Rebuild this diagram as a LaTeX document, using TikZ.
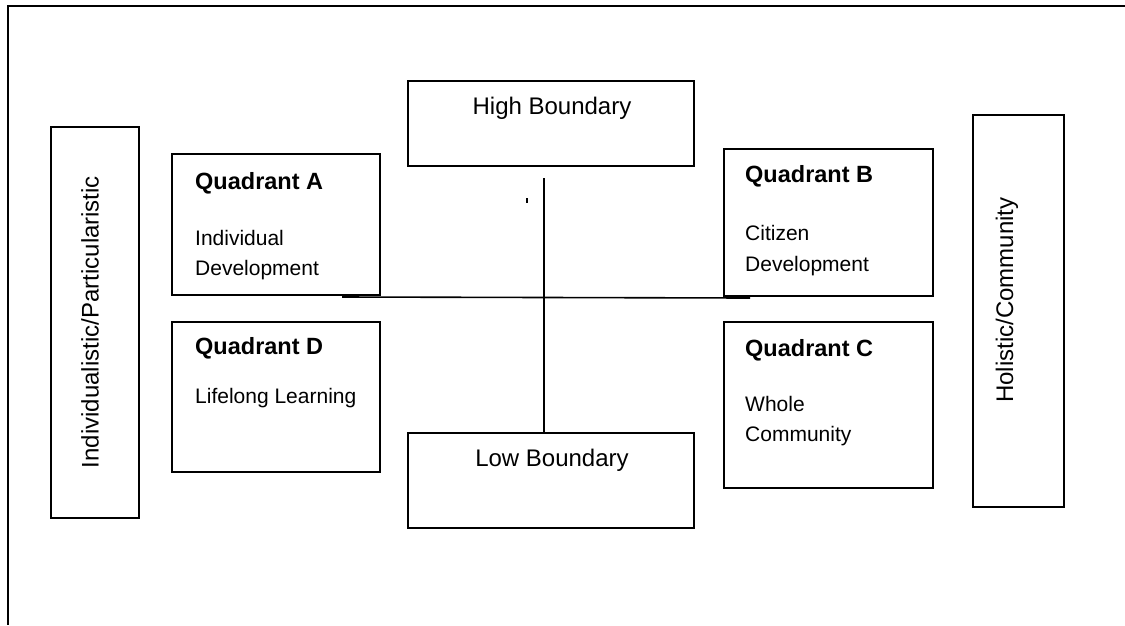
\documentclass[tikz,border=0pt]{standalone}
\usepackage{fontspec}
\setmainfont{Liberation Sans}
\begin{document}
\begin{tikzpicture}[x=1pt,y=-1pt,
  boxr/.style={draw=black,line width=1.5pt},
  lbl/.style={font=\fontsize{24}{30}\selectfont,inner sep=0pt},
  hd/.style={lbl,font=\fontsize{23.5}{30}\selectfont\bfseries,anchor=base west},
  bd/.style={lbl,font=\fontsize{21}{30}\selectfont,anchor=base west},
  ctr/.style={lbl,anchor=base},
  rule/.style={line width=1.6pt}]
\useasboundingbox (0,0) rectangle (1125,625);
% outer frame (top and left only)
\coordinate (frTR) at (1125,6);
\coordinate (frTL) at (8,6);
\coordinate (frBL) at (8,625);
\draw[line width=2pt] (frTR) -- (frTL) -- (frBL);
% boxes
\draw[boxr] (51,127) rectangle (139,518) coordinate (leftbox);
\draw[boxr] (973,115) rectangle (1064,507) coordinate (rightbox);
\draw[boxr] (408,81) rectangle (694,166) coordinate (highbox);
\draw[boxr] (408,433) rectangle (694,528) coordinate (lowbox);
\draw[boxr] (172,154) rectangle (380,295) coordinate (qa);
\draw[boxr] (172,322) rectangle (380,472) coordinate (qd);
\draw[boxr] (724,149) rectangle (933,296) coordinate (qb);
\draw[boxr] (724,322) rectangle (933,488) coordinate (qc);
% texts
\node[lbl,rotate=90] (tleft) at (90,322) {Individualistic/Particularistic};
\node[lbl,rotate=90] (tright) at (1007,300) {Holistic/Community};
\node[ctr] (thigh) at (552,114) {High Boundary};
\node[ctr] (tlow) at (552,466) {Low Boundary};
\node[hd] (qah) at (195,189) {Quadrant A};
\node[bd] (qa1) at (195,245) {Individual};
\node[bd] (qa2) at (195,275) {Development};
\node[hd] (qdh) at (195,354) {Quadrant D};
\node[bd] (qd1) at (195,403) {Lifelong Learning};
\node[hd] (qbh) at (745,182) {Quadrant B};
\node[bd] (qb1) at (745,240) {Citizen};
\node[bd] (qb2) at (745,271) {Development};
\node[hd] (qch) at (745,356) {Quadrant C};
\node[bd] (qc1) at (745,411) {Whole};
\node[bd] (qc2) at (745,441) {Community};
% cross lines
\coordinate (vtop) at (544,178);
\coordinate (vbot) at (544,433);
\coordinate (hl) at (342,297);
\coordinate (hr) at (750,298);
\draw[rule] (vtop) -- (vbot);
\draw[rule] (hl) -- (hr);
% stray mark
\coordinate (m1) at (527,198);
\coordinate (m2) at (527,203);
\draw[line width=1.2pt] (m1) -- (m2);
\end{tikzpicture}
\end{document}
